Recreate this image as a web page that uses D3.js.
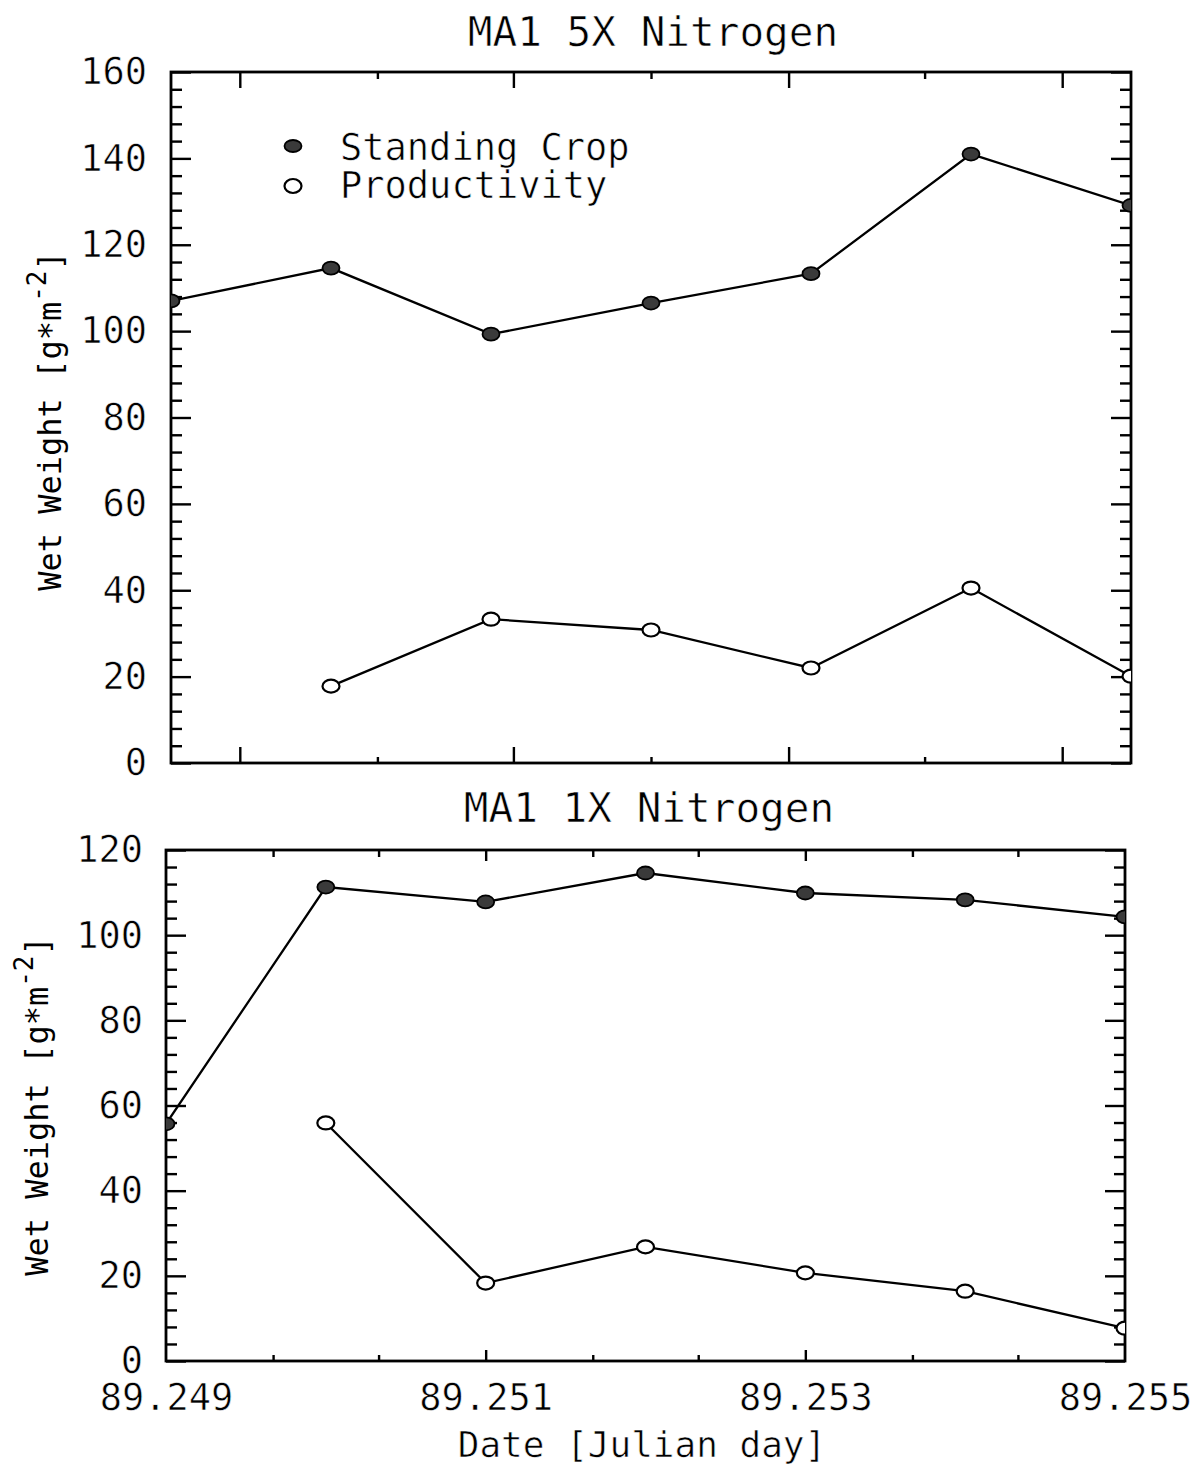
<!DOCTYPE html>
<html>
<head>
<meta charset="utf-8">
<script src="https://cdn.jsdelivr.net/npm/d3@7"></script>
<style>
  html, body { margin: 0; padding: 0; background: #fff; }
  svg { display: block; }
  /* thin the glyph strokes a little with a white outline drawn over the fill */
  text { font-family: "DejaVu Sans Mono", "Liberation Mono", monospace; fill: #000;
         stroke: #fff; stroke-width: 0.6px; paint-order: fill stroke; }
  text.ylab { stroke: none; }
  .axis path.domain { display: none; }
  .axis line { stroke: #000; stroke-width: 2.4; }
</style>
</head>
<body>
<script>
// Sampling dates (Julian day) shared by both treatments
const days = [89.249, 89.250, 89.251, 89.252, 89.253, 89.254, 89.255];

// MA1 5X nitrogen: wet weight, g m^-2
const standing5x = [107.0, 114.6, 99.3, 106.5, 113.3, 141.0, 129.1];
const product5x  = [null, 17.8, 33.3, 30.8, 22.0, 40.5, 20.1];

// MA1 1X nitrogen: wet weight, g m^-2
const standing1x = [55.7, 111.3, 107.8, 114.6, 109.9, 108.3, 104.3];
const product1x  = [null, 55.9, 18.3, 26.8, 20.7, 16.4, 7.7];

// Axis ticks
const xTickLabels = [89.249, 89.251, 89.253, 89.255];
const xMinorTicks1x = [89.24967, 89.25033, 89.25167, 89.25233, 89.25367, 89.25433];
const xMajorTicks1x = [89.251, 89.253];
const xMajorTicks5x = [89.24943, 89.25114, 89.25286, 89.25457];
const xMinorTicks5x = [89.25029, 89.25200, 89.25371];
const yLabels5x = [0, 20, 40, 60, 80, 100, 120, 140, 160];
const yLabels1x = [0, 20, 40, 60, 80, 100, 120];

const W = 1202, H = 1469;
const svg = d3.select("body").append("svg").attr("width", W).attr("height", H);

function panel(opt) {
  const x = d3.scaleLinear().domain([89.249, 89.255]).range([opt.left, opt.right]);
  const y = d3.scaleLinear().domain([0, opt.ymax]).range([opt.bottom, opt.top]);
  const g = svg.append("g");

  const clipId = "clip" + opt.id;
  svg.append("clipPath").attr("id", clipId)
    .append("rect")
    .attr("x", opt.left).attr("y", opt.top)
    .attr("width", opt.right - opt.left).attr("height", opt.bottom - opt.top);

  // y ticks: majors every 20, minors every 4, both sides, pointing inward
  const yMinor = d3.range(0, opt.ymax + 0.001, 4).filter(v => v % 20 !== 0);
  const yMajor = d3.range(0, opt.ymax + 0.001, 20);
  const ax = (gen, tr) => g.append("g").attr("class", "axis").attr("transform", tr).call(gen);
  ax(d3.axisLeft(y).tickValues(yMajor).tickSize(-20).tickFormat(""), `translate(${opt.left},0)`);
  ax(d3.axisLeft(y).tickValues(yMinor).tickSize(-11).tickFormat(""), `translate(${opt.left},0)`);
  ax(d3.axisRight(y).tickValues(yMajor).tickSize(-20).tickFormat(""), `translate(${opt.right},0)`);
  ax(d3.axisRight(y).tickValues(yMinor).tickSize(-11).tickFormat(""), `translate(${opt.right},0)`);

  // x ticks, top and bottom
  ax(d3.axisBottom(x).tickValues(opt.xMajor).tickSize(-opt.xMajorLen).tickFormat(""), `translate(0,${opt.bottom})`);
  ax(d3.axisBottom(x).tickValues(opt.xMinor).tickSize(-6).tickFormat(""), `translate(0,${opt.bottom})`);
  ax(d3.axisTop(x).tickValues(opt.xMajor).tickSize(-opt.xMajorLen).tickFormat(""), `translate(0,${opt.top})`);
  ax(d3.axisTop(x).tickValues(opt.xMinor).tickSize(-7).tickFormat(""), `translate(0,${opt.top})`);

  // y tick labels
  const yl = g.append("g").attr("class", "axis")
    .attr("transform", `translate(${opt.left},0)`)
    .call(d3.axisLeft(y).tickValues(opt.yLabels).tickSize(0).tickPadding(opt.yPad).tickFormat(d3.format("d")));
  yl.selectAll("text").attr("font-size", 37).style("font-family", "DejaVu Sans Mono").attr("fill", "#000");

  // frame
  g.append("rect")
    .attr("x", opt.left).attr("y", opt.top)
    .attr("width", opt.right - opt.left).attr("height", opt.bottom - opt.top)
    .attr("fill", "none").attr("stroke", "#000").attr("stroke-width", 2.8);

  // title
  g.append("text")
    .attr("x", opt.titleX).attr("y", opt.titleY)
    .attr("text-anchor", "middle").attr("font-size", 41)
    .text(opt.title);

  // y-axis title with superscript exponent
  const yt = g.append("text").attr("class", "ylab")
    .attr("transform", `translate(${opt.ylabX},${opt.ylabY}) rotate(-90)`)
    .attr("text-anchor", "middle").attr("font-size", 32);
  yt.append("tspan").text("Wet Weight [g*m");
  yt.append("tspan").attr("font-size", 26).attr("dy", -15).text("-2");
  yt.append("tspan").attr("dy", 15).text("]");

  const line = d3.line().defined(d => d[1] != null).x(d => x(d[0])).y(d => y(d[1]));
  const plot = g.append("g").attr("clip-path", `url(#${clipId})`);

  const standPts = days.map((d, i) => [d, opt.standing[i]]);
  const prodPts = days.map((d, i) => [d, opt.product[i]]).filter(d => d[1] != null);

  plot.append("path").datum(standPts).attr("d", line)
    .attr("fill", "none").attr("stroke", "#000").attr("stroke-width", 2.3);
  plot.append("path").datum(prodPts).attr("d", line)
    .attr("fill", "none").attr("stroke", "#000").attr("stroke-width", 2.3);

  plot.selectAll(".sc").data(standPts).join("ellipse")
    .attr("cx", d => x(d[0])).attr("cy", d => y(d[1]))
    .attr("rx", 8.5).attr("ry", 6.5)
    .attr("fill", "#3a3a3a").attr("stroke", "#000").attr("stroke-width", 1.8);
  plot.selectAll(".pr").data(prodPts).join("ellipse")
    .attr("cx", d => x(d[0])).attr("cy", d => y(d[1]))
    .attr("rx", 8.5).attr("ry", 6.5)
    .attr("fill", "#fff").attr("stroke", "#000").attr("stroke-width", 2.2);

  return { x, y, g };
}

// Upper panel: 5X nitrogen
const p1 = panel({
  id: 1, left: 171, right: 1131, top: 72, bottom: 763, ymax: 160,
  yLabels: yLabels5x, yPad: 24,
  xMajor: xMajorTicks5x, xMinor: xMinorTicks5x, xMajorLen: 16,
  standing: standing5x, product: product5x,
  title: "MA1 5X Nitrogen", titleX: 653, titleY: 46,
  ylabX: 61, ylabY: 421
});

// Legend
const lg = p1.g.append("g");
lg.append("ellipse").attr("cx", 293).attr("cy", 146).attr("rx", 8.5).attr("ry", 6)
  .attr("fill", "#3a3a3a").attr("stroke", "#000").attr("stroke-width", 1.8);
lg.append("ellipse").attr("cx", 293).attr("cy", 186).attr("rx", 8.5).attr("ry", 7)
  .attr("fill", "#fff").attr("stroke", "#000").attr("stroke-width", 2.2);
lg.append("text").attr("x", 340).attr("y", 160).attr("font-size", 37).text("Standing Crop");
lg.append("text").attr("x", 340).attr("y", 198).attr("font-size", 37).text("Productivity");

// Lower panel: 1X nitrogen
const p2 = panel({
  id: 2, left: 166, right: 1125, top: 850, bottom: 1361, ymax: 120,
  yLabels: yLabels1x, yPad: 23,
  xMajor: xMajorTicks1x, xMinor: xMinorTicks1x, xMajorLen: 11,
  standing: standing1x, product: product1x,
  title: "MA1 1X Nitrogen", titleX: 649, titleY: 822,
  ylabX: 48, ylabY: 1106
});

// Date labels along the lower panel
const xl = p2.g.append("g").attr("class", "axis")
  .attr("transform", "translate(0,1361)")
  .call(d3.axisBottom(p2.x).tickValues(xTickLabels).tickSize(0).tickPadding(23).tickFormat(d3.format(".3f")));
xl.selectAll("text").attr("font-size", 37).style("font-family", "DejaVu Sans Mono").attr("fill", "#000");

p2.g.append("text").attr("x", 642).attr("y", 1457)
  .attr("text-anchor", "middle").attr("font-size", 36)
  .text("Date [Julian day]");
</script>
</body>
</html>
